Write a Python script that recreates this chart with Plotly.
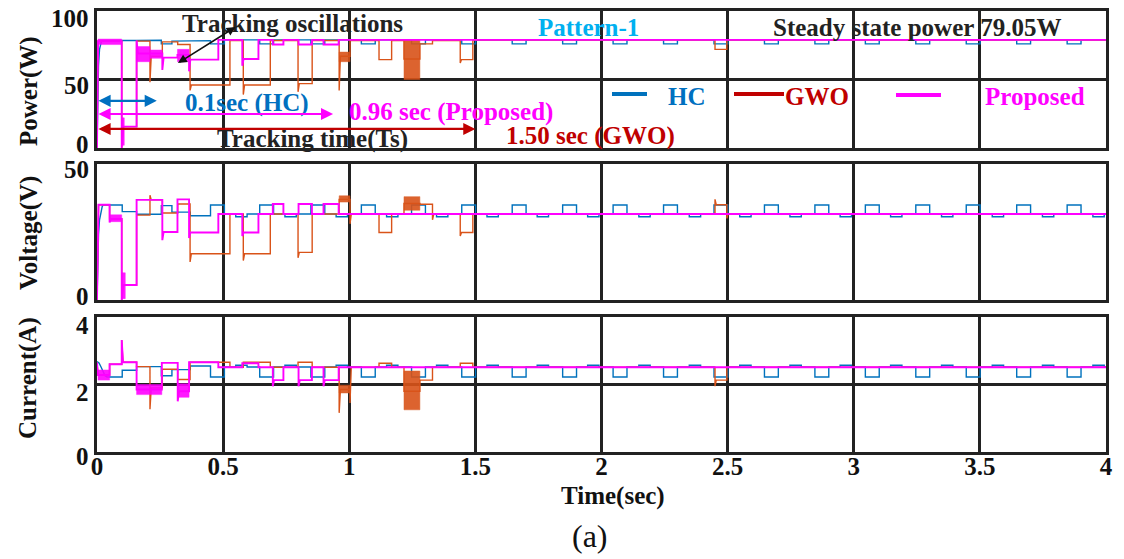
import plotly.graph_objects as go

T_END = 4.0
W, H = 1124, 559
FONT = "Liberation Serif, Times New Roman, serif"
FS = 25

C_HC = "#0072BD"
C_GWO = "#D95319"
C_PROP = "#FF00FF"

# ------------------------- data -------------------------
X_TICKS = [0, 0.5, 1, 1.5, 2, 2.5, 3, 3.5, 4]
X_LABELS = ["0", "0.5", "1", "1.5", "2", "2.5", "3", "3.5", "4"]
P_TICKS = [0, 50, 100]
V_TICKS = [0, 50]
I_TICKS = [0, 2, 4]

# HC (blue) - early transient
HC_V_HEAD_T = [0.0, 0.003, 0.006, 0.010, 0.015, 0.021]
HC_V_HEAD = [0.0, 14.0, 24.0, 29.5, 32.5, 34.5]
HC_V_T = [0.025, 0.100, 0.157, 0.255, 0.297, 0.370]
HC_V = [34.9, 32.5, 31.5, 34.7, 32.3, 31.0]

HC_P_HEAD_T = [0.0, 0.003, 0.006, 0.010, 0.015]
HC_P_HEAD = [0.0, 35.0, 60.0, 72.0, 77.0]
HC_P_T = [0.018, 0.100, 0.157, 0.255, 0.297, 0.370]
HC_P = [78.3, 78.5, 78.6, 76.0, 78.0, 78.4]

HC_I_HEAD_T = [0.0, 0.008, 0.016, 0.024, 0.032]
HC_I_HEAD = [2.68, 2.64, 2.52, 2.36, 2.26]
HC_I_T = [0.040, 0.100, 0.157, 0.255, 0.297, 0.370]
HC_I = [2.22, 2.42, 2.53, 2.26, 2.44, 2.55]

# HC periodic perturbation (steady state)
HC_BUMP_T = [0.450, 0.645, 0.848, 1.048, 1.247, 1.446, 1.646, 1.846, 2.046,
             2.246, 2.446, 2.646, 2.846, 3.046, 3.246, 3.446, 3.646, 3.846]
HC_DIP_T = [0.550, 0.745, 0.948, 1.148, 1.346, 1.546, 1.745, 1.945, 2.148,
            2.348, 2.548, 2.747, 2.946, 3.146, 3.348, 3.549, 3.748, 3.948]
HC_BUMP_W = 0.055
HC_DIP_W = 0.045
HC_V_LEVELS = (31.6, 34.9, 30.6)   # base, bump, dip
HC_P_LEVELS = (78.9, 76.0, 78.4)
HC_I_LEVELS = (2.52, 2.22, 2.57)

# Proposed (magenta)
PROP_V_HEAD_T = [0.0, 0.002]
PROP_V_HEAD = [0.0, 20.0]
PROP_V_T = [0.006, 0.050, 0.098, 0.157, 0.259, 0.319, 0.365, 0.481, 0.576,
            0.640, 0.697, 0.739, 0.799, 0.852, 0.898, 0.958]
PROP_V = [35.0, 29.8, 5.5, 36.8, 25.0, 37.0, 24.8, 31.6, 24.8,
          31.6, 35.3, 31.6, 35.3, 31.6, 35.3, 31.6]
PROP_V_SPIKE = [None, 28.5, 0.0, None, 22.0, None, 22.8, None, 23.5,
                None, None, None, None, None, None, None]
PROP_V_BANDS = [(0.050, 0.098, 28.8, 31.3), (0.098, 0.112, 0.5, 10.0)]

PROP_P_HEAD_T = [0.0]
PROP_P_HEAD = [0.0]
PROP_P_T = [0.004, 0.098, 0.157, 0.259, 0.319, 0.365, 0.481, 0.576, 0.640,
            0.697, 0.739, 0.799, 0.852, 0.898, 0.958]
PROP_P = [78.0, 15.6, 69.0, 66.0, 68.0, 64.5, 78.9, 65.0, 78.9,
          75.5, 78.9, 75.5, 78.9, 75.5, 78.9]
PROP_P_SPIKE = [None, 0.0, 78.5, 57.0, None, 56.0, None, 60.0, None,
                None, None, None, None, None, None]
PROP_P_BANDS = [(0.004, 0.098, 75.5, 79.5), (0.098, 0.108, 2.0, 22.0),
                (0.157, 0.210, 63.0, 74.0), (0.210, 0.259, 65.5, 71.5),
                (0.319, 0.365, 63.0, 72.0)]

PROP_I_HEAD_T = [0.0]
PROP_I_HEAD = [2.65]
PROP_I_T = [0.004, 0.050, 0.098, 0.157, 0.257, 0.320, 0.365, 0.481, 0.576,
            0.640, 0.697, 0.739, 0.799, 0.852, 0.898, 0.958]
PROP_I = [2.28, 2.60, 2.66, 1.85, 2.64, 1.80, 2.66, 2.51, 2.63,
          2.51, 2.13, 2.51, 2.13, 2.51, 2.13, 2.51]
PROP_I_SPIKE = [None, None, 3.32, None, None, 1.50, None, None, None,
                None, 1.95, None, 1.95, None, 1.95, None]
PROP_I_BANDS = [(0.004, 0.050, 2.13, 2.43), (0.157, 0.257, 1.70, 2.00),
                (0.320, 0.365, 1.62, 2.02)]

# GWO (orange)
GWO_V_HEAD_T = [0.0, 0.002]
GWO_V_HEAD = [0.0, 20.0]
GWO_V_T = [0.006, 0.050, 0.098, 0.157, 0.210, 0.259, 0.320, 0.369, 0.527,
           0.580, 0.687, 0.797, 0.853, 0.960, 1.003, 1.118, 1.168, 1.217,
           1.280, 1.330, 1.440, 1.490, 2.450, 2.497]
GWO_V = [35.0, 29.8, 5.5, 31.2, 36.8, 32.0, 35.3, 17.0, 31.6,
         17.0, 31.6, 17.5, 31.6, 37.0, 31.6, 24.8, 31.6, 35.5,
         35.2, 31.6, 24.8, 31.6, 35.0, 31.6]
GWO_V_SPIKE = [None, None, 0.0, None, 38.5, None, None, 14.0, None,
               14.5, None, 15.5, None, None, 28.0, None, None, None,
               None, 29.5, 23.5, None, 37.0, 30.0]
GWO_V_BANDS = [(0.960, 1.003, 36.0, 38.3), (1.217, 1.280, 33.0, 38.0)]

GWO_P_HEAD_T = [0.0]
GWO_P_HEAD = [0.0]
GWO_P_T = [0.004, 0.098, 0.157, 0.210, 0.259, 0.320, 0.369, 0.527, 0.580,
           0.687, 0.797, 0.853, 0.960, 1.003, 1.118, 1.168, 1.217, 1.280,
           1.330, 1.440, 1.490, 2.450, 2.497]
GWO_P = [78.0, 15.6, 78.0, 67.0, 77.5, 75.5, 46.0, 78.5, 46.0,
         78.5, 47.0, 78.5, 67.0, 78.5, 64.5, 78.5, 65.0, 76.0,
         78.5, 64.5, 78.8, 72.0, 78.8]
GWO_P_SPIKE = [None, 0.0, None, 48.0, None, None, 42.0, None, 39.0,
               None, 41.0, None, 42.0, None, None, None, None, None,
               None, 62.0, None, None, None]
GWO_P_BANDS = [(0.960, 1.003, 63.0, 70.0), (1.217, 1.280, 50.0, 79.0)]

GWO_I_HEAD_T = [0.0]
GWO_I_HEAD = [2.65]
GWO_I_T = [0.004, 0.050, 0.098, 0.157, 0.210, 0.259, 0.320, 0.369, 0.527,
           0.580, 0.687, 0.797, 0.853, 0.960, 1.003, 1.118, 1.168, 1.217,
           1.280, 1.330, 1.440, 1.490, 2.450, 2.497]
GWO_I = [2.28, 2.60, 2.66, 2.53, 1.90, 2.45, 2.15, 2.66, 2.51,
         2.66, 2.51, 2.66, 2.51, 1.85, 2.51, 2.63, 2.51, 1.80,
         2.13, 2.51, 2.63, 2.51, 2.13, 2.51]
GWO_I_SPIKE = [None, None, 3.32, None, 1.27, None, None, None, None,
               None, None, None, None, 1.16, 1.45, None, None, None,
               None, None, None, None, 1.95, None]
GWO_I_BANDS = [(0.960, 1.003, 1.75, 1.98), (1.217, 1.280, 1.25, 2.40)]


# ------------------------- builders -------------------------
def step_path(head_t, head_v, seg_t, seg_v, seg_s, dt=0.005):
    xs, ys = list(head_t), list(head_v)
    n = len(seg_t)
    for i in range(n):
        t0 = seg_t[i]
        t1 = seg_t[i + 1] if i + 1 < n else T_END
        s = seg_s[i] if seg_s is not None else None
        if s is not None:
            xs += [t0, min(t0 + dt, t1)]
            ys += [s, seg_v[i]]
        else:
            xs.append(t0)
            ys.append(seg_v[i])
        xs.append(t1)
        ys.append(seg_v[i])
    return xs, ys


def hc_segments(early_t, early_v, levels):
    base, bump, dip = levels
    ev = list(zip(early_t, early_v))
    for b in HC_BUMP_T:
        ev += [(b, bump), (b + HC_BUMP_W, base)]
    for d in HC_DIP_T:
        ev += [(d, dip), (d + HC_DIP_W, base)]
    ev.sort()
    return [e[0] for e in ev], [e[1] for e in ev], None


def band_path(bands):
    xs, ys = [], []
    for t0, t1, lo, hi in bands:
        xs += [t0, t1, t1, t0, t0, None]
        ys += [lo, lo, hi, hi, lo, None]
    return xs, ys


fig = go.Figure()


def add_line(xs, ys, color, width, ax):
    fig.add_trace(go.Scatter(x=xs, y=ys, mode="lines",
                             line=dict(color=color, width=width),
                             xaxis="x" + ax, yaxis="y" + ax,
                             showlegend=False, hoverinfo="skip"))


def add_band(bands, color, ax):
    xs, ys = band_path(bands)
    fig.add_trace(go.Scatter(x=xs, y=ys, mode="lines", fill="toself",
                             fillcolor=color, line=dict(color=color, width=0.5),
                             opacity=0.9, xaxis="x" + ax, yaxis="y" + ax,
                             showlegend=False, hoverinfo="skip"))


panels = [
    ("", (HC_P_HEAD_T, HC_P_HEAD, HC_P_T, HC_P, HC_P_LEVELS),
     (GWO_P_HEAD_T, GWO_P_HEAD, GWO_P_T, GWO_P, GWO_P_SPIKE, GWO_P_BANDS),
     (PROP_P_HEAD_T, PROP_P_HEAD, PROP_P_T, PROP_P, PROP_P_SPIKE, PROP_P_BANDS)),
    ("2", (HC_V_HEAD_T, HC_V_HEAD, HC_V_T, HC_V, HC_V_LEVELS),
     (GWO_V_HEAD_T, GWO_V_HEAD, GWO_V_T, GWO_V, GWO_V_SPIKE, GWO_V_BANDS),
     (PROP_V_HEAD_T, PROP_V_HEAD, PROP_V_T, PROP_V, PROP_V_SPIKE, PROP_V_BANDS)),
    ("3", (HC_I_HEAD_T, HC_I_HEAD, HC_I_T, HC_I, HC_I_LEVELS),
     (GWO_I_HEAD_T, GWO_I_HEAD, GWO_I_T, GWO_I, GWO_I_SPIKE, GWO_I_BANDS),
     (PROP_I_HEAD_T, PROP_I_HEAD, PROP_I_T, PROP_I, PROP_I_SPIKE, PROP_I_BANDS)),
]

for ax, hc, gwo, prop in panels:
    st, sv, ss = hc_segments(hc[2], hc[3], hc[4])
    xs, ys = step_path(hc[0], hc[1], st, sv, ss)
    add_line(xs, ys, C_HC, 1.4, ax)
    xs, ys = step_path(gwo[0], gwo[1], gwo[2], gwo[3], gwo[4])
    add_line(xs, ys, C_GWO, 1.4, ax)
    add_band(gwo[5], C_GWO, ax)
    xs, ys = step_path(prop[0], prop[1], prop[2], prop[3], prop[4])
    add_line(xs, ys, C_PROP, 1.9, ax)
    add_band(prop[5], C_PROP, ax)

# ------------------------- layout -------------------------
def py2p(py):
    return 1 - py / H


def px2p(px):
    return px / W


XDOM = [px2p(97), px2p(1106)]
tickfont = dict(family=FONT, size=FS, color="#111", weight="bold")
common = dict(showline=True, linecolor="#222", linewidth=3, mirror=True,
              zeroline=False, showgrid=True, gridcolor="#222", gridwidth=2.5,
              ticks="", tickfont=tickfont, automargin=False, fixedrange=True)

layout = dict(width=W, height=H, margin=dict(l=0, r=0, t=0, b=0),
              paper_bgcolor="white", plot_bgcolor="white", showlegend=False)
ydoms = {"": [py2p(148), py2p(11)], "2": [py2p(300), py2p(164)],
         "3": [py2p(452), py2p(317)]}
yticks = {"": (P_TICKS, [0, 100]), "2": (V_TICKS, [0, 50]), "3": (I_TICKS, [0, 4])}
for ax in ["", "2", "3"]:
    layout["xaxis" + ax] = dict(common, domain=XDOM, range=[0, T_END],
                                tickvals=X_TICKS, ticktext=X_LABELS,
                                showticklabels=(ax == "3"),
                                ticklabelstandoff=-10,
                                anchor="y" + ax)
    layout["yaxis" + ax] = dict(common, domain=ydoms[ax], range=yticks[ax][1],
                                tickvals=yticks[ax][0], showticklabels=False,
                                anchor="x" + ax)
fig.update_layout(**layout)

ann = []


def text(t, px, py, color, size=FS, bold=True, angle=0):
    ann.append(dict(text=("<b>%s</b>" % t) if bold else t, x=px2p(px), y=py2p(py),
                    xref="paper", yref="paper", showarrow=False,
                    xanchor="center", yanchor="middle", textangle=angle,
                    font=dict(family=FONT, size=size, color=color)))


# y tick labels, placed on each y axis scale (small nudges as in the figure)
YLAB_SHIFT = {"": [4, -6, -7], "2": [3, -6], "3": [-4, -8, -8]}
for ax in ["", "2", "3"]:
    for v, sh in zip(yticks[ax][0], YLAB_SHIFT[ax]):
        ann.append(dict(text="<b>%g</b>" % v, x=px2p(91), y=v, xref="paper",
                        yref="y" + ax, yshift=sh, showarrow=False,
                        xanchor="right", yanchor="middle",
                        font=dict(family=FONT, size=FS, color="#111")))

text("Power(W)", 29, 91, "#111", angle=-90)
text("Voltage(V)", 29, 233, "#111", angle=-90)
text("Current(A)", 28, 378, "#111", angle=-90)
text("Tracking oscillations", 292, 24, "#222")
text("Pattern-1", 588, 28, "#00B0F0")
text("Steady state power 79.05W", 917, 28, "#222")
text("HC", 687, 96, "#0070C0")
text("GWO", 817, 96, "#C00000")
text("Proposed", 1035, 96, C_PROP)
text("0.1sec (HC)", 247, 103, "#0070C0")
text("0.96 sec (Proposed)", 451, 112, C_PROP)
text("1.50 sec (GWO)", 590, 136, "#C00000")
text("Tracking time(Ts)", 312, 139, "#222")
text("Time(sec)", 613, 496, "#111")
text("(a)", 590, 536, "#111", size=32, bold=False)

# arrows in power-panel data coords
ARROWS = [  # (t_tail, p_tail, t_head, p_head, color)
    (0.0, 34.4, 0.237, 34.4, "#0070C0"),
    (0.0, 24.8, 0.936, 24.8, C_PROP),
    (0.0, 13.9, 1.500, 13.9, "#C00000"),
    (0.555, 89.0, 0.321, 62.0, "#111"),
]
for t0, p0, t1, p1, col in ARROWS:
    ann.append(dict(text="", x=t1, y=p1, ax=t0, ay=p0, xref="x", yref="y",
                    axref="x", ayref="y", showarrow=True, arrowhead=2,
                    startarrowhead=2, arrowside="end+start", arrowsize=1.1,
                    startarrowsize=1.1, arrowwidth=2.2 if col != "#111" else 1.6,
                    arrowcolor=col, standoff=0, startstandoff=0))
fig.update_layout(annotations=ann)

LEG = [(612, 647, 94, C_HC), (734, 784, 94, "#C00000"), (896, 941, 95, C_PROP)]
fig.update_layout(shapes=[dict(type="line", xref="paper", yref="paper",
                               x0=px2p(a), x1=px2p(b), y0=py2p(y), y1=py2p(y),
                               line=dict(color=c, width=4)) for a, b, y, c in LEG])

fig.write_html("out.html", config={"displayModeBar": False})
